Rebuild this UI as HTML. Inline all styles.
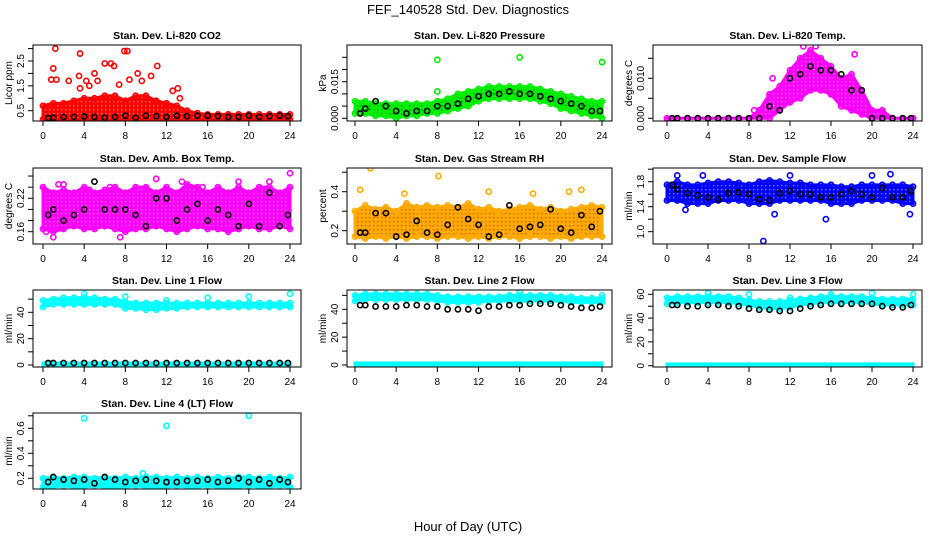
<!DOCTYPE html>
<html><head><meta charset="utf-8"><style>
html,body{margin:0;padding:0;background:#fff}
svg{display:block;font-family:"Liberation Sans",sans-serif}
</style></head><body>
<svg id="chart" width="936" height="540" viewBox="0 0 936 540">
<defs id="defs"></defs>
<text x="468" y="14" text-anchor="middle" font-size="13">FEF_140528  Std. Dev. Diagnostics</text>
<text x="468" y="531" text-anchor="middle" font-size="13">Hour of Day (UTC)</text>
</svg>
<script>
const hours=[0,1,2,3,4,5,6,7,8,9,10,11,12,13,14,15,16,17,18,19,20,21,22,23,24];
const xTicks=[0,4,8,12,16,20,24];
// CO2
const co2Lo=[0.15,0.15,0.15,0.15,0.15,0.15,0.15,0.15,0.15,0.15,0.15,0.15,0.15,0.15,0.15,0.15,0.15,0.15,0.15,0.15,0.15,0.15,0.15,0.15,0.15];
const co2Hi=[0.7,0.8,0.8,0.9,1.0,1.0,1.1,1.1,0.9,1.1,1.1,0.9,0.8,0.7,0.5,0.4,0.35,0.35,0.35,0.35,0.35,0.35,0.35,0.35,0.35];
const co2Black=[0.2,0.22,0.25,0.25,0.27,0.25,0.22,0.25,0.3,0.22,0.3,0.28,0.25,0.3,0.28,0.3,0.3,0.28,0.25,0.25,0.3,0.25,0.28,0.3,0.28];
const co2OutX=[1.2,1.0,0.8,1.3,3.6,3.5,6,6.6,6.9,7.9,8.2,5,2.5,4.2,9.2,10.5,11.1,8.4,9.6,5.3,13.1,13.3,12.6,7.4,3.6,4.5];
const co2OutY=[3.0,2.2,1.75,1.75,2.8,1.9,2.4,2.4,2.3,2.9,2.9,2.0,1.7,1.7,2.0,1.9,2.3,1.75,1.7,1.7,1.4,1.0,1.3,1.55,1.4,1.5];
// Pressure
const pLo=[0.002,0.002,0.001,0.001,0.000,0.001,0.001,0.002,0.002,0.003,0.004,0.005,0.007,0.008,0.008,0.008,0.008,0.008,0.007,0.006,0.004,0.003,0.002,0.001,0.000];
const pHi=[0.007,0.007,0.006,0.006,0.006,0.006,0.006,0.006,0.007,0.008,0.010,0.011,0.012,0.013,0.013,0.013,0.013,0.013,0.012,0.011,0.010,0.009,0.008,0.007,0.007];
const pBlack=[0.002,0.004,0.007,0.005,0.003,0.002,0.003,0.003,0.005,0.005,0.006,0.008,0.009,0.010,0.010,0.011,0.010,0.010,0.009,0.008,0.007,0.006,0.005,0.003,0.003];
const pOutX=[8,16,24,8];
const pOutY=[0.024,0.025,0.023,0.011];
// Li-820 temp
const tLo=[0,0,0,0,0,0,0,0,0,0,0,0.002,0.004,0.005,0.007,0.007,0.006,0.003,0.002,0.001,0,0,0,0,0];
const tHi=[0,0,0,0,0,0,0,0,0,0.002,0.006,0.008,0.012,0.015,0.017,0.015,0.013,0.010,0.011,0.007,0.002,0.002,0,0,0];
const tBlack=[0,0,0,0,0,0,0,0,0,0,0.003,0.002,0.010,0.011,0.013,0.012,0.012,0.011,0.007,0.007,0,0,0,0,0];
const tOutX=[14.5,18.3,8.5,10.3,13.3];
const tOutY=[0.018,0.016,0.002,0.010,0.018];
// Amb box temp
const aLo=[0.165,0.16,0.165,0.17,0.165,0.165,0.17,0.165,0.16,0.165,0.165,0.17,0.165,0.16,0.165,0.17,0.165,0.165,0.16,0.165,0.17,0.165,0.165,0.17,0.165];
const aHi=[0.24,0.23,0.235,0.23,0.24,0.23,0.235,0.24,0.23,0.24,0.24,0.23,0.24,0.23,0.245,0.24,0.23,0.24,0.23,0.24,0.23,0.24,0.24,0.23,0.24];
const aBlack=[0.19,0.20,0.18,0.19,0.20,0.25,0.20,0.20,0.20,0.19,0.17,0.22,0.22,0.18,0.20,0.21,0.18,0.20,0.19,0.17,0.21,0.17,0.23,0.17,0.19];
const aOutX=[0.3,1.0,2.0,1.5,6.5,4.5,7.5,11,13.5,15.5,19,22,24];
const aOutY=[0.16,0.15,0.245,0.245,0.24,0.235,0.15,0.255,0.25,0.24,0.25,0.25,0.265];
// Gas stream RH
const rLo=[0.17,0.16,0.17,0.16,0.17,0.16,0.17,0.17,0.16,0.17,0.17,0.16,0.17,0.16,0.17,0.17,0.16,0.17,0.17,0.16,0.17,0.16,0.17,0.17,0.17];
const rHi=[0.30,0.33,0.31,0.32,0.30,0.34,0.32,0.33,0.32,0.33,0.32,0.34,0.31,0.32,0.30,0.31,0.32,0.33,0.31,0.32,0.30,0.31,0.32,0.33,0.32];
const rBlack=[0.19,0.19,0.29,0.29,0.17,0.18,0.25,0.19,0.18,0.23,0.32,0.26,0.23,0.17,0.18,0.33,0.21,0.22,0.23,0.31,0.21,0.19,0.28,0.22,0.30];
const rOutX=[0.5,1.5,8.1,13,20.8,22,17.3,4.8];
const rOutY=[0.41,0.52,0.48,0.40,0.40,0.41,0.39,0.39];
// Sample flow
const sLo=[1.5,1.5,1.45,1.45,1.45,1.5,1.5,1.5,1.45,1.45,1.45,1.5,1.5,1.5,1.5,1.5,1.45,1.45,1.45,1.5,1.5,1.5,1.5,1.45,1.45];
const sHi=[1.75,1.8,1.75,1.75,1.78,1.8,1.8,1.78,1.75,1.8,1.82,1.8,1.78,1.78,1.75,1.75,1.75,1.72,1.72,1.75,1.75,1.75,1.75,1.75,1.72];
const sBlack=[1.75,1.68,1.62,1.58,1.55,1.52,1.62,1.63,1.6,1.52,1.5,1.62,1.65,1.6,1.6,1.55,1.55,1.6,1.65,1.6,1.55,1.7,1.55,1.55,1.65];
const sOutX=[1,9.4,10.5,12,15.5,21.8,23.7,20,3.5,1.8];
const sOutY=[1.9,0.85,1.28,1.9,1.2,1.92,1.28,1.9,1.9,1.35];
// Line 1 flow
const l1Lo=[44,46,46,46,46,46,46,46,43,43,42,42,43,43,44,44,44,44,44,44,44,44,44,44,44];
const l1Hi=[49,50,51,51,51,51,50,50,48,47,47,47,47,47,47,47,47,47,47,47,47,47,47,47,47];
const l1Black=[1.5,1.5,1.5,1.5,1.5,1.5,1.5,1.5,1.5,1.5,1.5,1.5,1.5,1.5,1.5,1.5,1.5,1.5,1.5,1.5,1.5,1.5,1.5,1.5,1.5];
const l1OutX=[4,8,12,16,20,24];
const l1OutY=[54,52,49,51,52,54];
// Line 2 flow
const l2Lo=[46,47,47,47,47,47,47,47,46,45,45,45,45,46,46,46,46,46,46,46,46,45,45,45,45];
const l2Hi=[50,51,51,51,51,51,51,51,50,49,49,49,49,49,49,50,50,50,50,50,49,49,48,48,48];
const l2Black=[43,43,42,42,42,43,43,42,42,40,40,40,39,42,42,43,43,44,44,44,43,42,41,41,42];
const l2OutX=[16,24,16];
const l2OutY=[52,50,46];
// Line 3 flow
const l3Lo=[52,53,53,53,53,53,53,52,51,49,48,48,49,51,52,53,53,53,53,53,52,51,51,51,51];
const l3Hi=[57,58,58,58,58,58,58,57,55,54,54,54,55,56,57,58,58,58,58,58,57,56,56,56,56];
const l3Black=[51,51,50,50,51,51,50,50,48,47,47,46,46,48,50,51,52,52,52,52,52,50,49,49,51];
const l3OutX=[4,8,12,16,20,24];
const l3OutY=[61,60,57,60,61,60];
// Line 4 flow
const l4Lo=[0.13,0.13,0.14,0.13,0.13,0.14,0.13,0.13,0.13,0.14,0.13,0.13,0.13,0.14,0.13,0.13,0.14,0.13,0.13,0.13,0.14,0.13,0.13,0.14,0.13];
const l4Hi=[0.2,0.21,0.2,0.21,0.21,0.2,0.21,0.2,0.21,0.2,0.21,0.21,0.2,0.21,0.2,0.21,0.2,0.21,0.2,0.21,0.21,0.2,0.21,0.2,0.21];
const l4Black=[0.17,0.21,0.19,0.18,0.19,0.16,0.21,0.19,0.17,0.18,0.19,0.18,0.17,0.17,0.18,0.18,0.19,0.17,0.18,0.2,0.17,0.19,0.16,0.19,0.17];
const l4OutX=[4,12,20,9.7];
const l4OutY=[0.68,0.62,0.7,0.24];

const NS='http://www.w3.org/2000/svg';
const svg=document.getElementById('chart');
const defs=document.getElementById('defs');
function mk(tag,attrs,parent){const e=document.createElementNS(NS,tag);for(const k in attrs)e.setAttribute(k,attrs[k]);(parent||svg).appendChild(e);return e;}

const panels=[
 {id:'co2',title:'Stan. Dev. Li-820 CO2',yt:'Licor ppm',box:[33,45,301,121],x0:43,x24:290,ref:[0.5,110.7,2.5,61],ticks:[0.5,1,1.5,2,2.5,3],labels:['0.5','1.5','2.5'],color:'#ff0000',dot:'#ff0000',lo:co2Lo,hi:co2Hi,blk:co2Black,ox:co2OutX,oy:co2OutY},
 {id:'pressure',title:'Stan. Dev. Li-820 Pressure',yt:'kPa',box:[347,45,612,121],x0:355,x24:602,ref:[0,118.3,0.015,81.7],ticks:[0,0.005,0.01,0.015,0.02,0.025],labels:['0.000','0.015'],color:'#00ee00',dot:'#005500',lo:pLo,hi:pHi,blk:pBlack,ox:pOutX,oy:pOutY},
 {id:'li820-temp',title:'Stan. Dev. Li-820 Temp.',yt:'degrees C',box:[653,45,922,121],x0:667,x24:913,ref:[0,118.3,0.01,78.3],ticks:[0,0.005,0.01,0.015],labels:['0.000','0.010'],color:'#ff00ff',dot:'#ff00ff',lo:tLo,hi:tHi,blk:tBlack,ox:tOutX,oy:tOutY},
 {id:'amb-box-temp',title:'Stan. Dev. Amb. Box Temp.',yt:'degrees C',box:[33,168,301,244],x0:43,x24:290,ref:[0.16,231.7,0.22,198.3],ticks:[0.16,0.18,0.2,0.22,0.24,0.26],labels:['0.16','0.22'],color:'#ff00ff',dot:'#ff00ff',lo:aLo,hi:aHi,blk:aBlack,ox:aOutX,oy:aOutY},
 {id:'gas-stream-rh',title:'Stan. Dev. Gas Stream RH',yt:'percent',box:[347,168,612,244],x0:355,x24:602,ref:[0.2,230.7,0.4,191.7],ticks:[0.2,0.3,0.4,0.5],labels:['0.2','0.4'],color:'#ffaa00',dot:'#ff2200',lo:rLo,hi:rHi,blk:rBlack,ox:rOutX,oy:rOutY},
 {id:'sample-flow',title:'Stan. Dev. Sample Flow',yt:'ml/min',box:[653,168,922,244],x0:667,x24:913,ref:[1.0,231.7,1.8,181.7],ticks:[1.0,1.2,1.4,1.6,1.8,2.0],labels:['1.0','1.4','1.8'],color:'#0000ff',dot:'#0000ff',lo:sLo,hi:sHi,blk:sBlack,ox:sOutX,oy:sOutY},
 {id:'line1-flow',title:'Stan. Dev. Line 1 Flow',yt:'ml/min',box:[33,290,301,367],x0:43,x24:290,ref:[0,365,40,312.3],ticks:[0,10,20,30,40,50],labels:['0','20','40'],color:'#00ffff',dot:'#00e0e0',lo:l1Lo,hi:l1Hi,blk:l1Black,ox:l1OutX,oy:l1OutY,zero:true},
 {id:'line2-flow',title:'Stan. Dev. Line 2 Flow',yt:'ml/min',box:[347,290,612,367],x0:355,x24:602,ref:[0,365,40,309.3],ticks:[0,10,20,30,40,50],labels:['0','20','40'],color:'#00ffff',dot:'#00e0e0',lo:l2Lo,hi:l2Hi,blk:l2Black,ox:l2OutX,oy:l2OutY,zero:true},
 {id:'line3-flow',title:'Stan. Dev. Line 3 Flow',yt:'ml/min',box:[653,290,922,367],x0:667,x24:913,ref:[0,365.7,60,294.3],ticks:[0,10,20,30,40,50,60],labels:['0','20','40','60'],color:'#00ffff',dot:'#00e0e0',lo:l3Lo,hi:l3Hi,blk:l3Black,ox:l3OutX,oy:l3OutY,zero:true},
 {id:'line4-flow',title:'Stan. Dev. Line 4 (LT) Flow',yt:'ml/min',box:[33,413,301,489],x0:43,x24:290,ref:[0.2,478.3,0.6,428.3],ticks:[0.2,0.3,0.4,0.5,0.6,0.7],labels:['0.2','0.4','0.6'],color:'#00ffff',dot:'#00e0e0',lo:l4Lo,hi:l4Hi,blk:l4Black,ox:l4OutX,oy:l4OutY}
];

panels.forEach(p=>{
  const pat=mk('pattern',{id:'pat-'+p.id,width:4,height:4,patternUnits:'userSpaceOnUse'},defs);
  mk('rect',{x:0,y:0,width:4,height:4,fill:p.color},pat);
  mk('rect',{x:1,y:1,width:1.3,height:1.3,fill:p.id==='gas-stream-rh'||p.id==='pressure'?p.dot:'#ffffff','fill-opacity':p.id==='gas-stream-rh'||p.id==='pressure'?0.8:0.55},pat);
  const g=mk('g',{});
  
  
  const [L,T,R,B]=p.box;
  const xs=h=>p.x0+(p.x24-p.x0)*h/24;
  const ys=v=>p.ref[1]+(v-p.ref[0])*(p.ref[3]-p.ref[1])/(p.ref[2]-p.ref[0]);
  const clip='clip-'+p.id;
  const cp=mk('clipPath',{id:clip},g);mk('rect',{x:L,y:T,width:R-L,height:B-T},cp);
  const data=mk('g',{'clip-path':'url(#'+clip+')'},g);
  let pts=hours.map((h,i)=>xs(h)+','+ys(p.hi[i])).concat(hours.slice().reverse().map((h,j)=>{const i=hours.length-1-j;return xs(h)+','+ys(p.lo[i]);}));
  const band=mk('polygon',{points:pts.join(' '),fill:'url(#pat-'+p.id+')',stroke:p.color,'stroke-width':3,'stroke-linejoin':'round'},data);
  
  
  if(p.zero){
    const zb=mk('rect',{x:xs(0),y:ys(1.5),width:xs(24)-xs(0),height:ys(0)-ys(1.5),fill:'url(#pat-'+p.id+')',stroke:p.color,'stroke-width':3},data);
    
    
  }
  hours.forEach((h,i)=>{
    [p.hi[i],p.lo[i]].forEach(v=>{
      const c=mk('circle',{cx:xs(h),cy:ys(v),r:2.6,fill:'none',stroke:p.color,'stroke-width':1.6},data);
      
      
    });
  });
  p.ox.forEach((h,i)=>{
    const c=mk('circle',{cx:xs(h),cy:ys(p.oy[i]),r:2.6,fill:'none',stroke:p.color,'stroke-width':1.6},data);
    
    
  });
  hours.forEach((h,i)=>{
    const hh=Math.min(Math.max(h,0.5),23.8);
    const c=mk('circle',{cx:xs(hh),cy:ys(p.blk[i]),r:2.6,fill:'none',stroke:'#000','stroke-width':1.6},data);
    
    
  });
  mk('rect',{x:L,y:T,width:R-L,height:B-T,fill:'none',stroke:'#000','stroke-width':1},g);
  xTicks.forEach(t=>{
    mk('line',{x1:xs(t),x2:xs(t),y1:B,y2:B+5,stroke:'#000'},g);
    const tx=mk('text',{x:xs(t),y:B+18,'text-anchor':'middle','font-size':10},g);
    tx.textContent=t;
    
    
  });
  p.ticks.forEach(t=>{mk('line',{x1:L-5,x2:L,y1:ys(t),y2:ys(t),stroke:'#000'},g);});
  p.labels.forEach(l=>{
    const y=ys(parseFloat(l));
    const tx=mk('text',{x:0,y:0,'text-anchor':'middle','font-size':10,transform:'translate('+(L-9)+','+y+') rotate(-90)'},g);
    tx.textContent=l;
    
    
  });
  const yt=mk('text',{x:0,y:0,'text-anchor':'middle','font-size':10,transform:'translate('+(L-21)+','+((T+B)/2)+') rotate(-90)'},g);
  yt.textContent=p.yt;
  
  
  const ti=mk('text',{x:(L+R)/2,y:T-6,'text-anchor':'middle','font-size':10.5,'font-weight':'bold'},g);
  ti.textContent=p.title;
  
  
});
</script>
</body></html>
